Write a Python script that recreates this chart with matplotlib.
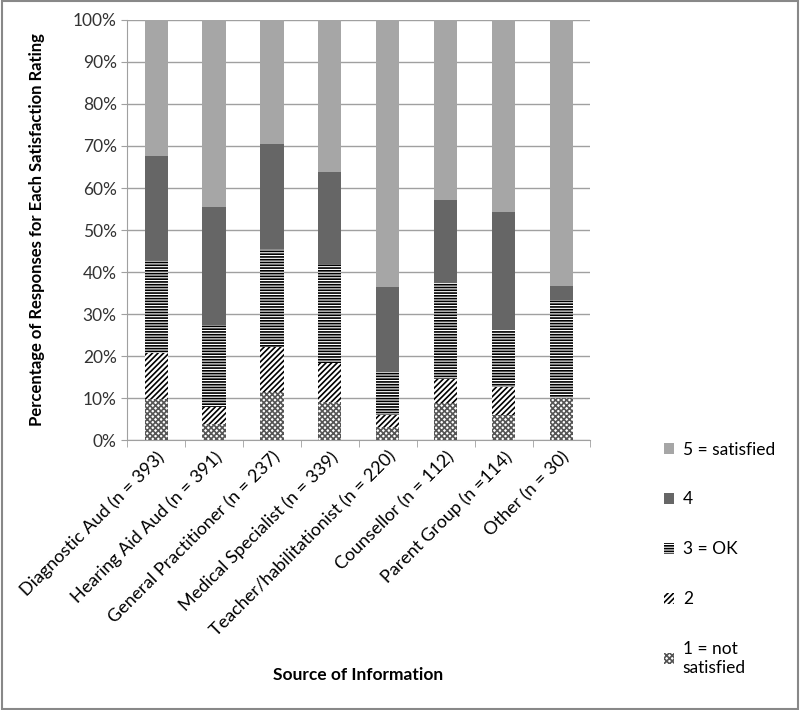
import matplotlib.pyplot as plt
from matplotlib.patches import Rectangle
import numpy as np

plt.rcParams['font.family'] = ['Lato', 'DejaVu Sans']
plt.rcParams['hatch.linewidth'] = 1.2

# Data (percent of responses per rating)
sources = ['Diagnostic Aud (n = 393)', 'Hearing Aid Aud (n = 391)',
           'General Practitioner (n = 237)', 'Medical Specialist (n = 339)',
           'Teacher/habilitationist (n = 220)', 'Counsellor (n = 112)',
           'Parent Group (n =114)', 'Other (n = 30)']
r1 = [9.8, 3.8, 11.5, 9.1, 3.2, 8.9, 6.1, 10.0]
r2 = [10.9, 4.0, 10.6, 9.2, 2.9, 5.6, 6.5, 0.0]
r3 = [22.1, 19.6, 23.4, 23.7, 10.2, 22.9, 13.6, 23.3]
r4 = [24.9, 28.1, 25.0, 21.7, 20.1, 19.8, 28.2, 3.4]
r5 = [32.3, 44.5, 29.5, 36.3, 63.6, 42.8, 45.6, 63.3]

labels = ['1 = not\nsatisfied', '2', '3 = OK', '4', '5 = satisfied']
series = [r1, r2, r3, r4, r5]
styles = [
    dict(facecolor='white', edgecolor='#555555', hatch='xxxxxx'),
    dict(facecolor='white', edgecolor='black', hatch='//////'),
    dict(facecolor='white', edgecolor='black', hatch='------'),
    dict(facecolor='#666666', edgecolor='#666666'),
    dict(facecolor='#a6a6a6', edgecolor='#a6a6a6'),
]

fig = plt.figure(figsize=(8, 7.1), dpi=100)
ax = fig.add_axes([0.159, 0.380, 0.579, 0.592])

x = np.arange(len(sources))
bottom = np.zeros(len(sources))
handles = []
for vals, lab, st in zip(series, labels, styles):
    b = ax.bar(x, vals, 0.4, bottom=bottom, label=lab, linewidth=0, zorder=3, **st)
    handles.append(b)
    bottom += np.array(vals)

ax.set_ylim(0, 100)
ax.set_xlim(-0.5, len(sources) - 0.5)
ax.set_yticks(np.arange(0, 101, 10))
ax.set_yticklabels([f'{v}%' for v in range(0, 101, 10)], fontsize=12.5, color='#333333')
ax.set_xticks(x)
ax.set_xticklabels(sources, rotation=45, ha='right', rotation_mode='anchor', fontsize=13)
ax.yaxis.grid(True, color='#a0a0a0', linewidth=1, zorder=0)
for s in ['top', 'right']:
    ax.spines[s].set_visible(False)
ax.spines['left'].set_color('#a0a0a0')
ax.spines['bottom'].set_color('#a0a0a0')
ax.tick_params(axis='y', length=4, color='#a0a0a0')
ax.tick_params(axis='x', length=0, pad=6)
ax.set_xticks(np.arange(-0.5, len(sources)), minor=True)
ax.tick_params(axis='x', which='minor', length=5, color='#a0a0a0')

ax.set_ylabel('Percentage of Responses for Each Satisfaction Rating', fontsize=12, fontweight='bold', labelpad=20)
fig.text(0.448, 0.049, 'Source of Information', ha='center', va='center', fontsize=12.5, fontweight='bold')

fig.legend(handles[::-1], labels[::-1], loc='upper left', bbox_to_anchor=(0.81, 0.40),
           frameon=False, fontsize=12.5, labelspacing=1.95, handlelength=0.6, handleheight=0.6,
           handletextpad=0.5)

fig.add_artist(Rectangle((0.002, 0.002), 0.996, 0.996, transform=fig.transFigure,
                         fill=False, edgecolor='#888888', linewidth=1.5))

fig.savefig('out.png', dpi=100)
